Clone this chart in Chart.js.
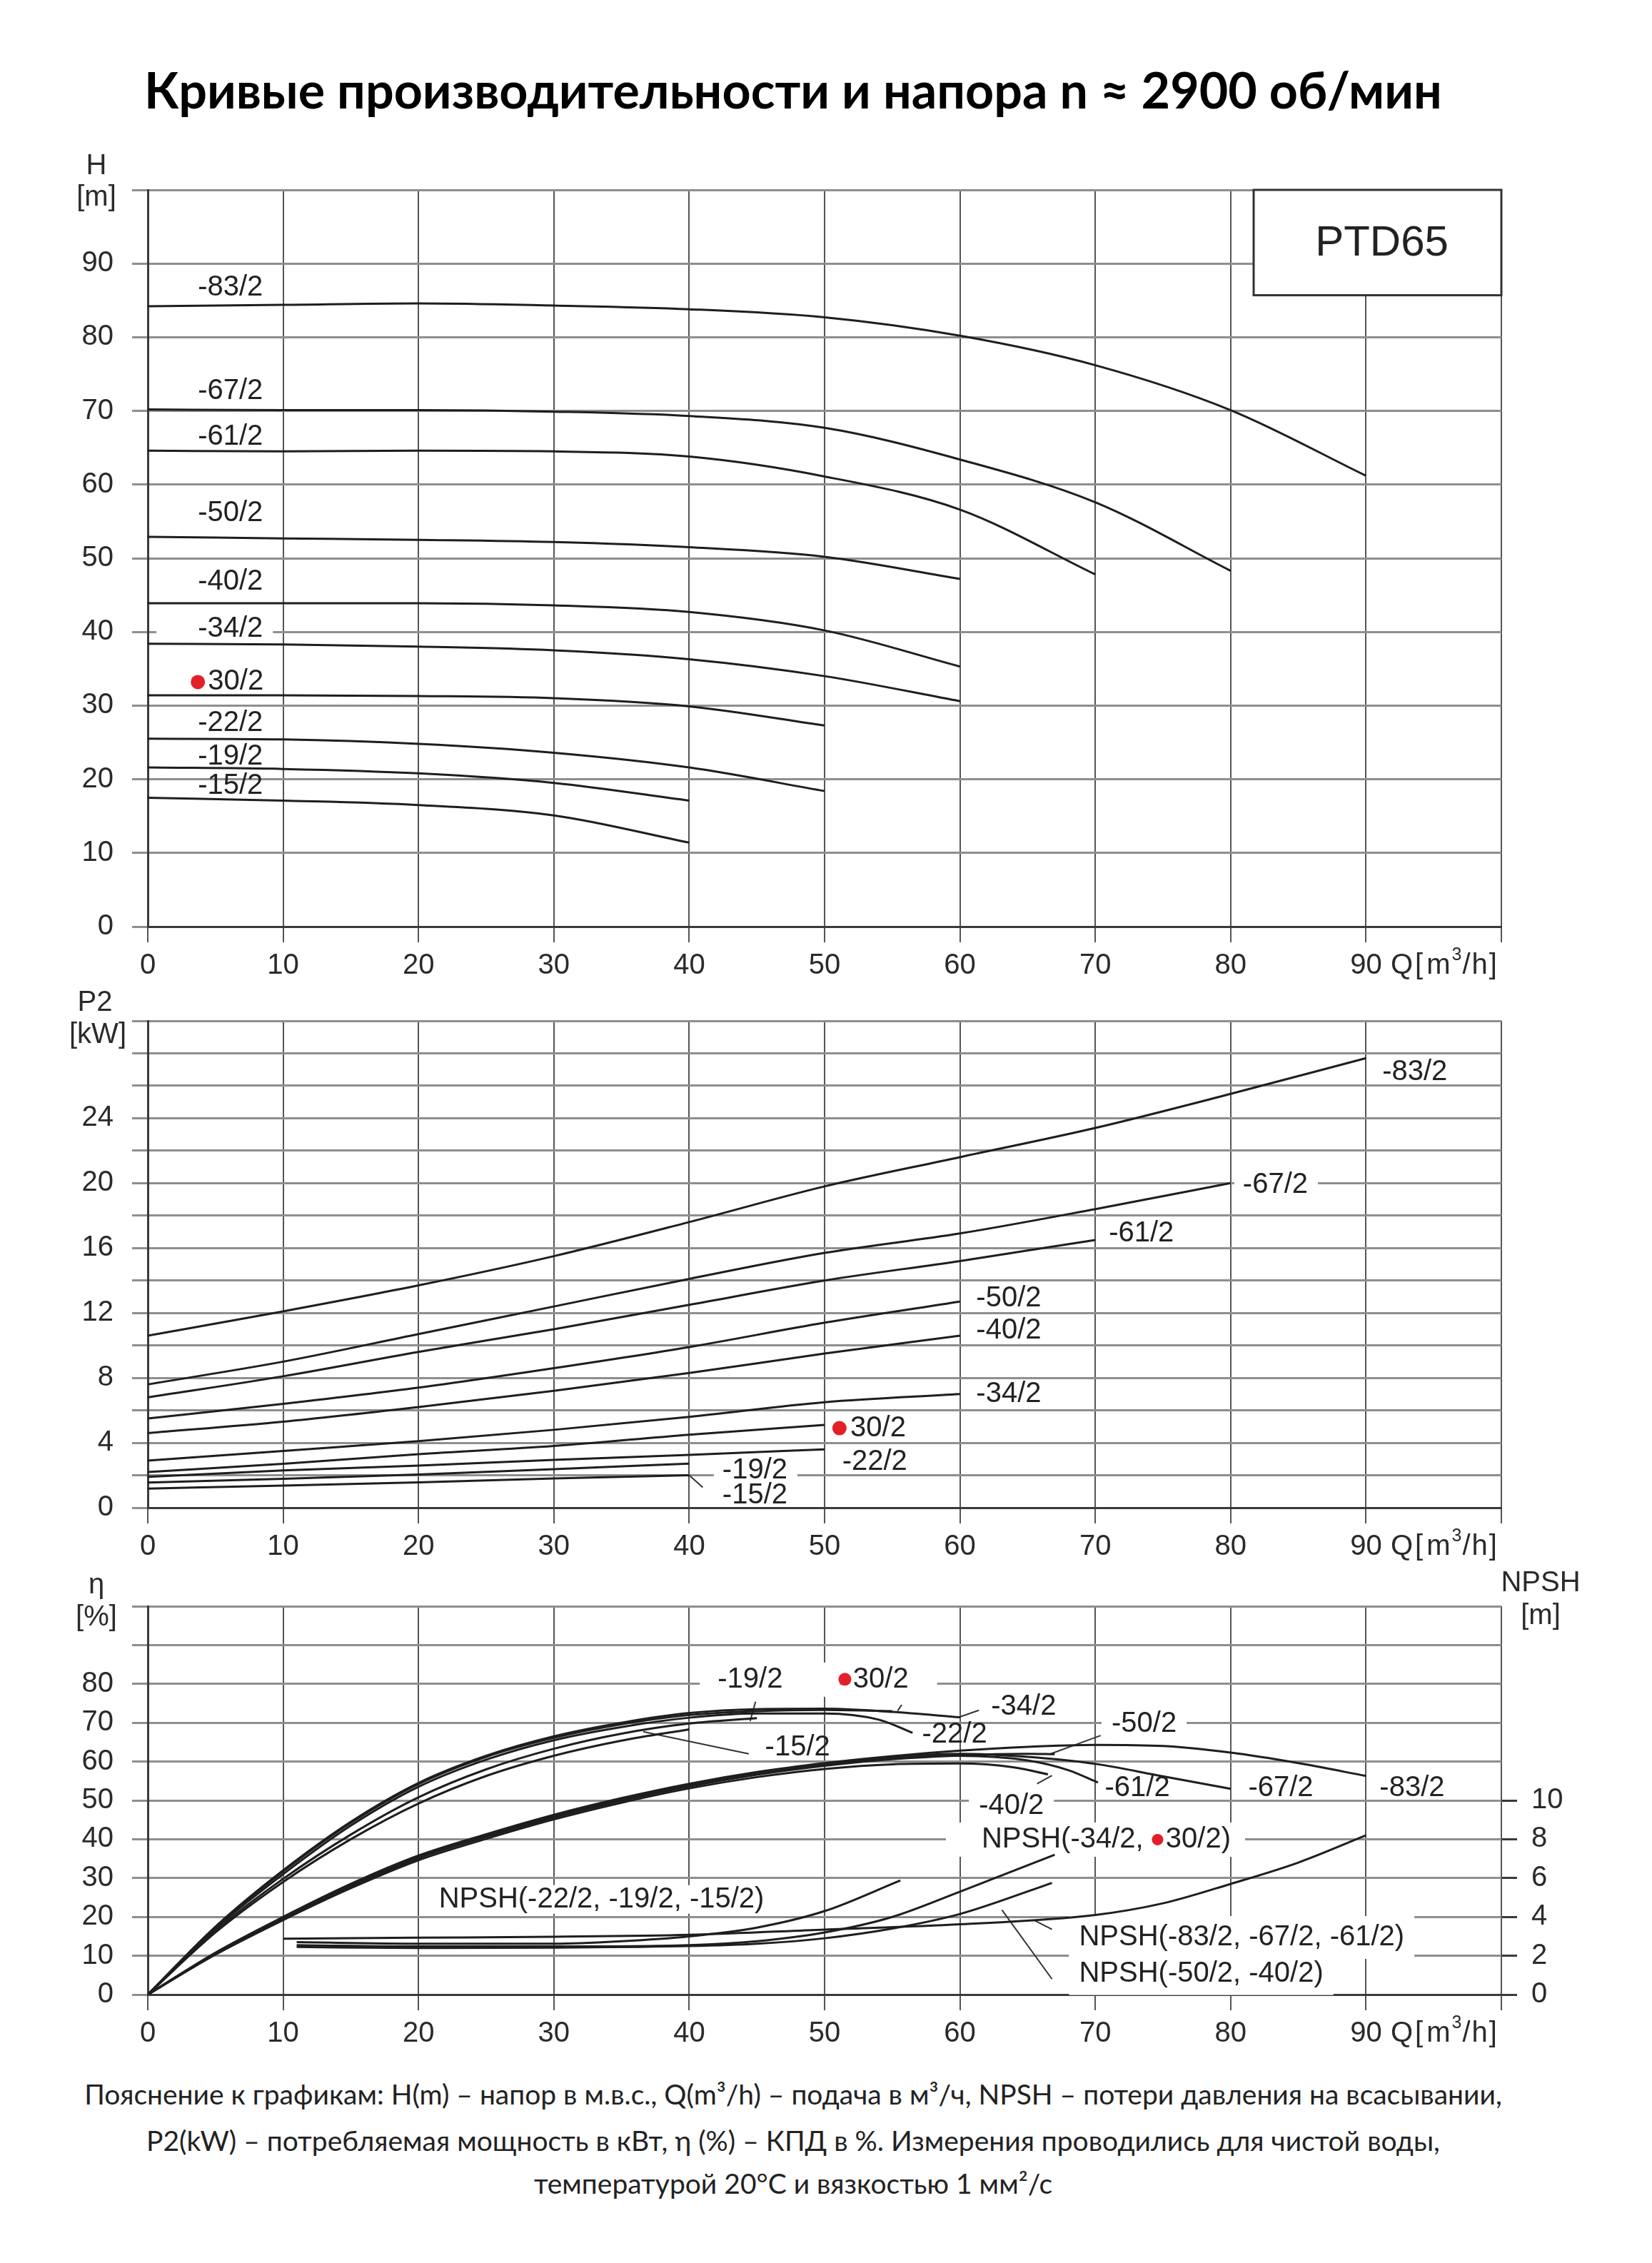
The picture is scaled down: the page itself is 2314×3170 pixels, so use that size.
<!DOCTYPE html>
<html><head><meta charset="utf-8">
<script src="https://cdn.jsdelivr.net/npm/chart.js@4.4.0/dist/chart.umd.min.js"></script>
<style>
html,body{margin:0;padding:0;background:#fff;}
body{width:2314px;height:3170px;position:relative;overflow:hidden;}
canvas{position:absolute;left:0;}
.t{position:absolute;left:0;width:2222px;text-align:center;white-space:nowrap;line-height:1;transform:translateY(-50%);font-family:Lato,"Open Sans",sans-serif;}
#title{font-weight:bold;color:#000;}
.f{color:#222;}
</style></head><body>
<div id="title" class="t" style="top:125px">Кривые производительности и напора n ≈ 2900 об/мин</div>
<canvas id="c1" width="2314" height="1400" style="top:0px;width:2314px;height:1400px"></canvas>
<canvas id="c2" width="2314" height="840" style="top:1380px;width:2314px;height:840px"></canvas>
<canvas id="c3" width="2314" height="700" style="top:2200px;width:2314px;height:700px"></canvas>
<div id="f1" class="t f" style="top:2933px">Пояснение к графикам: H(m) – напор в м.в.с., Q(m³/h) – подача в м³/ч, NPSH – потери давления на всасывании,</div>
<div id="f2" class="t f" style="top:2998px">P2(kW) – потребляемая мощность в кВт, η (%) – КПД в %. Измерения проводились для чистой воды,</div>
<div id="f3" class="t f" style="top:3058px">температурой 20°C и вязкостью 1 мм²/с</div>
<script>
// ---------------- DATA ----------------
// Head curves H [m] vs Q [m3/h]
const qH = [0,10,20,30,40,50,60,70,80,90];
const H_83 = [84.2,84.4,84.6,84.3,83.8,82.7,80.2,76.2,70.1,61.2];
const H_67 = [70.2,70.1,70.1,69.9,69.3,67.7,63.4,57.6,48.3];
const H_61 = [64.6,64.5,64.6,64.5,63.8,61.1,56.6,47.8];
const H_50 = [52.9,52.7,52.5,52.2,51.5,50.2,47.2];
const H_40 = [43.9,43.9,43.9,43.6,42.7,40.2,35.3];
const H_34 = [38.4,38.3,38.0,37.5,36.3,34.0,30.6];
const H_30 = [31.4,31.4,31.3,31.0,29.9,27.3];
const H_22 = [25.5,25.4,24.8,23.6,21.6,18.4];
const H_19 = [21.6,21.4,20.8,19.5,17.1];
const H_15 = [17.5,17.1,16.5,15.1,11.4];

// Power curves P2 [kW]
const P_83 = [10.6,12.1,13.7,15.5,17.6,19.8,21.6,23.4,25.5,27.7];
const P_67 = [7.6,9.0,10.7,12.4,14.1,15.7,16.9,18.4,20.0];
const P_61 = [6.8,8.1,9.6,11.0,12.5,14.0,15.2,16.5];
const P_50 = [5.5,6.4,7.4,8.6,9.9,11.4,12.7];
const P_40 = [4.6,5.3,6.2,7.2,8.3,9.5,10.6];
const P_34 = [2.9,3.5,4.1,4.8,5.6,6.5,7.0];
const P_30 = [2.2,2.7,3.3,3.8,4.5,5.1];
const P_22 = [1.9,2.3,2.6,2.95,3.25,3.6];
const P_19 = [1.55,1.78,2.05,2.38,2.72];
const P_15 = [1.18,1.36,1.56,1.8,2.0];

// Efficiency curves eta [%]
const q5 = [0,5,10,15,20,25,30,35,40,45,50,55,60,65,70,75,80,85,90];
const E_34 = [0,17.5,32,44.5,54.5,61.5,66.5,70,72.5,73.5,73.6,72.8,71.4];
const E_30 = [0,17.3,31.7,44.2,54.2,61.2,66.1,69.6,72,73,73.3,73];
const qE_22 = [0,5,10,15,20,25,30,35,40,45,50,54,56.5];
const E_22 = [0,17,31,43.5,53.5,60.5,65.5,68.9,71.3,72.4,72.4,70.8,67.4];
const E_19 = [0,16.5,29.8,41.2,50.8,58,63.3,67.2,69.8,71.2];
const E_15 = [0,16,29,40,49.2,56.3,61.5,65.4,68.3];
const E_83 = [0,10.8,20,28.5,35.8,41.3,46.3,50.6,54.3,57.3,59.6,61.4,62.8,63.8,64.3,64,62.3,59.6,56.3];
const E_67 = [0,10.7,19.8,28.3,35.6,41.1,46.1,50.4,54.1,57.1,59.4,61.1,62,61.2,59.4,56.2,53];
const qE_61 = [0,5,10,15,20,25,30,35,40,45,50,55,60,65,68,70.2];
const E_61 = [0,10.6,19.7,28.1,35.4,40.9,45.9,50.2,53.9,56.9,59.2,60.8,61.5,60.3,57.8,54.6];
const qE_50 = [0,5,10,15,20,25,30,35,40,45,50,55,60,65,67];
const E_50 = [0,10.5,19.5,27.8,35.1,40.6,45.6,49.9,53.6,56.6,58.9,60.6,61.6,62,61.9];
const qE_40 = [0,5,10,15,20,25,30,35,40,45,50,55,60,64,66.5];
const E_40 = [0,10.3,19.2,27.4,34.6,40.1,45.1,49.4,53.1,56,58.1,59.3,59.5,58.5,56.7];

// NPSH curves [m]
const qN_A = [11,20,30,35,40,45,50,55.6];
const N_A = [2.7,2.62,2.62,2.75,3.0,3.45,4.3,5.88];       // -22/2, -19/2, -15/2
const qN_B = [11,20,30,40,45,50,55,60,67];
const N_B = [2.55,2.48,2.48,2.55,2.75,3.2,4.0,5.3,7.2];    // -34/2, 30/2
const qN_C = [11,20,30,40,45,50,55,60,66.8];
const N_C = [2.45,2.4,2.42,2.5,2.62,2.9,3.4,4.15,5.75];    // -50/2, -40/2
const qN_D = [10,20,30,40,50,60,70,75,80,85,90];
const N_D = [2.88,2.93,2.98,3.08,3.35,3.62,4.1,4.7,5.7,6.8,8.2]; // -83/2, -67/2, -61/2

// Marked (red) points and leader lines, in data units
const dotH = [[3.7,33.2]];
const dotP = [[51.1,4.9]];
const dotE = [[51.5,81.2]];
const dotN = [[74.6,39.9]];
const leadP_15 = [[40,2.0],[41,1.25]];
const leadE_19 = [[44.9,75.4],[44.5,70.4]];
const leadE_15 = [[44.4,62],[36.6,67.7]];
const leadE_30 = [[55.7,74.6],[55.4,73.1]];
const leadE_34 = [[61.4,73.2],[60,71.5]];
const leadE_50 = [[70.4,66.7],[66.7,62]];
const leadE_40 = [[65.7,54.3],[66.8,56.4]];
const leadN_D = [[65.5,19.1],[66.8,16.8]];
const leadN_C = [[63.1,21.8],[66.8,4.0]];

// Curve labels
const labH = [
  {t:'-83/2',x:3.7,y:86.7},{t:'-67/2',x:3.7,y:72.7},{t:'-61/2',x:3.7,y:66.5},
  {t:'-50/2',x:3.7,y:56.1},{t:'-40/2',x:3.7,y:46.8},{t:'-34/2',x:3.7,y:40.4,bg:1,pl:58,pr:14},
  {t:'30/2',x:4.45,y:33.2},{t:'-22/2',x:3.7,y:27.6},{t:'-19/2',x:3.7,y:23.1},{t:'-15/2',x:3.7,y:19.1}
];
const labP = [
  {t:'-83/2',x:91.2,y:26.85},{t:'-67/2',x:80.9,y:19.9,bg:1,pl:12},{t:'-61/2',x:71,y:16.9},
  {t:'-50/2',x:61.2,y:12.87},{t:'-40/2',x:61.2,y:10.9},{t:'-34/2',x:61.2,y:7.0},
  {t:'30/2',x:51.9,y:4.9},{t:'-22/2',x:51.3,y:2.8},{t:'-19/2',x:42.45,y:2.3,bg:1,pl:12},{t:'-15/2',x:42.45,y:0.75}
];
const labE = [
  {t:'-19/2',x:42.1,y:81.1,bg:1,pl:25,pr:80},{t:'30/2',x:52.1,y:81.1,bg:1,pl:14,pr:40},
  {t:'-15/2',x:45.6,y:63.7},{t:'-34/2',x:62.3,y:74.1},{t:'-22/2',x:57.2,y:67},
  {t:'-50/2',x:71.2,y:69.7,bg:1},{t:'-61/2',x:70.7,y:53.1},{t:'-67/2',x:81.3,y:53.1},{t:'-83/2',x:91,y:53.1},
  {t:'-40/2',x:61.4,y:48.6,bg:1},
  {t:'NPSH(-34/2,',x:61.6,y:39.9,bg:1,pl:50,pr:16},{t:'30/2)',x:75.2,y:39.9,bg:1,pl:16,pr:20},
  {t:'NPSH(-83/2, -67/2, -61/2)',x:68.8,y:14.7,bg:1,ph:30},
  {t:'NPSH(-50/2, -40/2)',x:68.8,y:5.4,bg:1,ph:30},
  {t:'NPSH(-22/2, -19/2, -15/2)',x:21.5,y:24.5,bg:1,ph:20}
];

// ---------------- STYLE / HELPERS ----------------
const FAM = '"Liberation Sans", Arial, sans-serif';
const TF = {family:FAM, size:40};
const LF = '40px ' + FAM;
const INK = '#1e1e1e', HGRID = '#8e8e8e', VGRID = '#555', AXIS = '#3a3a3a', TXT = '#2a2a2a';

const pts = (qs, vs) => vs.map((v,i) => ({x:qs[i], y:v}));
const curve = (qs, vs, yID) => ({data:pts(qs,vs), borderColor:INK, borderWidth:3, pointRadius:0, fill:false,
  cubicInterpolationMode:'monotone', tension:0.4, yAxisID:yID||'y'});
const lead = a => ({data:a.map(p=>({x:p[0],y:p[1]})), borderColor:'#333', borderWidth:2, pointRadius:0, tension:0, fill:false, yAxisID:'y'});
const dots = (a,r) => ({data:a.map(p=>({x:p[0],y:p[1]})), showLine:false, pointRadius:r, pointHoverRadius:r,
  pointBackgroundColor:'#e3202a', pointBorderWidth:0, borderColor:'#e3202a', yAxisID:'y'});

function xScale(){
  return {type:'linear', min:0, max:100,
    ticks:{stepSize:10, autoSkip:false, maxRotation:0, font:TF, color:TXT, padding:9,
      callback:v => v<=90 ? String(v) : ''},
    grid:{color:VGRID, lineWidth:2, tickLength:22, tickColor:VGRID, tickWidth:2},
    border:{display:true, color:AXIS, width:3},
    afterFit:s => { s.height = 100; }};
}
function yScale(max, step, show){
  return {type:'linear', position:'left', min:0, max:max,
    ticks:{stepSize:step, autoSkip:false, font:TF, color:TXT, padding:26,
      callback:v => show(v) ? String(v) : ''},
    grid:{color:HGRID, lineWidth:3, tickLength:22, tickColor:HGRID, tickWidth:3},
    border:{display:true, color:AXIS, width:3},
    afterFit:s => { s.width = 207; }};
}

function drawQ(ctx, y){
  ctx.save(); ctx.fillStyle=TXT; ctx.textBaseline='middle'; ctx.textAlign='left';
  let x = 1948;
  ctx.font = LF;
  ctx.fillText('Q', x, y); x += ctx.measureText('Q').width + 3;
  ctx.fillText('[', x, y); x += ctx.measureText('[').width + 5;
  ctx.fillText('m', x, y); x += ctx.measureText('m').width + 2;
  ctx.font = '25px ' + FAM; ctx.fillText('3', x, y-15); x += ctx.measureText('3').width + 1;
  ctx.font = LF;
  ctx.fillText('/', x, y); x += ctx.measureText('/').width + 2;
  ctx.fillText('h', x, y); x += ctx.measureText('h').width + 2;
  ctx.fillText(']', x, y);
  ctx.restore();
}

function annot(o){
  return {
    id:'annot',
    beforeDatasetsDraw(chart){
      const ctx = chart.ctx, xs = chart.scales.x, ys = chart.scales.y;
      ctx.save(); ctx.font = LF;
      for (const L of o.labels){
        if (!L.bg) continue;
        const w = ctx.measureText(L.t).width;
        const px = xs.getPixelForValue(L.x), py = ys.getPixelForValue(L.y);
        const pl = L.pl ?? 14, pr = L.pr ?? 14, ph = L.ph ?? 24;
        ctx.fillStyle = '#fff'; ctx.fillRect(px-pl, py-ph, w+pl+pr, 2*ph);
      }
      if (o.box){
        const B = o.box;
        const x0 = xs.getPixelForValue(B.x0), x1 = xs.getPixelForValue(B.x1);
        const yb = ys.getPixelForValue(B.y0), yt = ys.getPixelForValue(B.y1);
        ctx.fillStyle = '#fff'; ctx.fillRect(x0, yt, x1-x0, yb-yt);
        ctx.strokeStyle = '#333'; ctx.lineWidth = 3; ctx.strokeRect(x0, yt, x1-x0, yb-yt);
        ctx.font = '60px ' + FAM; ctx.fillStyle = '#222'; ctx.textAlign='center'; ctx.textBaseline='middle';
        ctx.fillText(B.t, (x0+x1)/2 + 6, (yb+yt)/2 + 2);
      }
      ctx.restore();
    },
    afterDatasetsDraw(chart){
      const ctx = chart.ctx, xs = chart.scales.x, ys = chart.scales.y;
      ctx.save(); ctx.font = LF; ctx.fillStyle = '#222'; ctx.textAlign='left'; ctx.textBaseline='middle';
      for (const L of o.labels) ctx.fillText(L.t, xs.getPixelForValue(L.x), ys.getPixelForValue(L.y));
      ctx.restore();
    },
    afterDraw(chart){
      const ctx = chart.ctx;
      ctx.save(); ctx.font = LF; ctx.fillStyle = TXT; ctx.textAlign='center'; ctx.textBaseline='middle';
      for (const T of o.titles) ctx.fillText(T.t, T.x, T.y);
      ctx.restore();
      drawQ(ctx, chart.chartArea.bottom + 55);
    }
  };
}

const base = (pad) => ({responsive:false, devicePixelRatio:1, animation:false, events:[],
  layout:{padding:pad},
  plugins:{legend:{display:false}, tooltip:{enabled:false}}});

// ---------------- CHART 1: H ----------------
new Chart(document.getElementById('c1'), {
  type:'line',
  data:{datasets:[
    curve(qH,H_83),curve(qH,H_67),curve(qH,H_61),curve(qH,H_50),curve(qH,H_40),
    curve(qH,H_34),curve(qH,H_30),curve(qH,H_22),curve(qH,H_19),curve(qH,H_15),
    dots(dotH,10)
  ]},
  options:Object.assign(base({left:0,top:266,right:211,bottom:2}), {
    scales:{x:xScale(), y:yScale(100,10,v=>v<=90)}
  }),
  plugins:[annot({labels:labH, box:{x0:81.7,x1:100,y0:85.7,y1:100,t:'PTD65'},
    titles:[{t:'H',x:135,y:233},{t:'[m]',x:135,y:277}]})]
});

// ---------------- CHART 2: P2 ----------------
new Chart(document.getElementById('c2'), {
  type:'line',
  data:{datasets:[
    curve(qH,P_83),curve(qH,P_67),curve(qH,P_61),curve(qH,P_50),curve(qH,P_40),
    curve(qH,P_34),curve(qH,P_30),curve(qH,P_22),curve(qH,P_19),curve(qH,P_15),
    lead(leadP_15), dots(dotP,10)
  ]},
  options:Object.assign(base({left:0,top:49,right:211,bottom:8}), {
    scales:{x:xScale(), y:yScale(30,2,v=>v%4===0 && v<=24)}
  }),
  plugins:[annot({labels:labP, titles:[{t:'P2',x:133,y:25},{t:'[kW]',x:137,y:70}]})]
});

// ---------------- CHART 3: eta + NPSH ----------------
const y2 = {type:'linear', position:'right', min:0, max:20,
  ticks:{stepSize:2, autoSkip:false, font:TF, color:TXT, padding:20, callback:v=>String(v)},
  afterBuildTicks:s => { s.ticks = s.ticks.filter(t => t.value <= 10); },
  grid:{drawOnChartArea:false, color:AXIS, lineWidth:3, tickLength:22, tickColor:AXIS, tickWidth:3},
  border:{display:false},
  afterFit:s => { s.width = 211; }};

new Chart(document.getElementById('c3'), {
  type:'line',
  data:{datasets:[
    curve(q5,E_34),curve(q5,E_30),curve(qE_22,E_22),curve(q5,E_19),curve(q5,E_15),
    curve(q5,E_83),curve(q5,E_67),curve(qE_61,E_61),curve(qE_50,E_50),curve(qE_40,E_40),
    curve(qN_A,N_A,'y2'),curve(qN_B,N_B,'y2'),curve(qN_C,N_C,'y2'),curve(qN_D,N_D,'y2'),
    lead(leadE_19),lead(leadE_15),lead(leadE_30),lead(leadE_34),lead(leadE_50),lead(leadE_40),
    lead(leadN_D),lead(leadN_C),
    dots(dotE,9), dots(dotN,8)
  ]},
  options:Object.assign(base({left:0,top:42,right:0,bottom:6}), {
    scales:{x:xScale(), y:yScale(100,10,v=>v<=80), y2:y2}
  }),
  plugins:[annot({labels:labE, titles:[{t:'η',x:135,y:21},{t:'[%]',x:135,y:66},{t:'NPSH',x:2158,y:18},{t:'[m]',x:2158,y:64}]})]
});

// ---------------- fit title / footer text widths ----------------
function fitSize(text, weight, fam, target){
  const c = document.createElement('canvas').getContext('2d');
  c.font = weight + ' 100px ' + fam;
  return 100 * target / c.measureText(text).width;
}
const tEl = document.getElementById('title');
tEl.style.fontSize = fitSize(tEl.textContent, 'bold', 'Lato', 1818).toFixed(2) + 'px';
const fs = fitSize(document.getElementById('f1').textContent, 'normal', 'Lato', 1986).toFixed(2) + 'px';
['f1','f2','f3'].forEach(id => document.getElementById(id).style.fontSize = fs);
</script>
</body></html>
